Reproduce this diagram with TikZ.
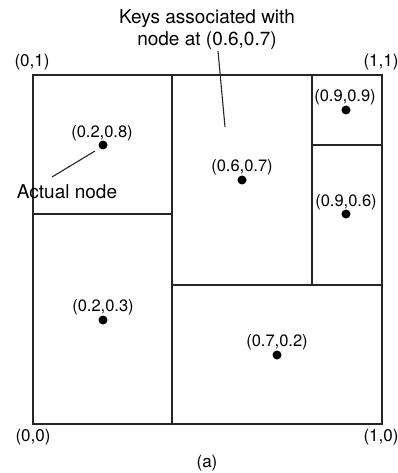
\documentclass[tikz,border=0pt]{standalone}
\usepackage{fontspec}
\setmainfont{TeX Gyre Heros}
\begin{document}
\begin{tikzpicture}[x={(1pt,0)},y={(0,-1pt)},
  region/.style={draw=black!85,line width=1.1pt},
  pt/.style={circle,fill=black,inner sep=0pt,minimum size=9pt},
  coordlbl/.style={font=\fontsize{16.5}{19}\selectfont,inner sep=0pt},
  cornerlbl/.style={font=\fontsize{17}{20}\selectfont,inner sep=0pt},
  bigtxt/.style={font=\fontsize{19}{22}\selectfont,inner sep=0pt,align=center},
  leader/.style={draw=black!85,line width=1.1pt}]
\useasboundingbox (0,0) rectangle (398,473);
% regions
\draw[region] (33,75) rectangle (382,424);
\draw[region] (172,75) -- (172,424);
\draw[region] (312,75) -- (312,285);
\draw[region] (172,285) -- (382,285);
\draw[region] (33,214) -- (172,214);
\draw[region] (312,145) -- (382,145);
% points
\node[pt] (p28) at (103,145) {};
\node[pt] (p99) at (346,110) {};
\node[pt] (p67) at (242,180) {};
\node[pt] (p96) at (346,214) {};
\node[pt] (p23) at (103,320) {};
\node[pt] (p72) at (277,355) {};
% point labels
\node[coordlbl] (l28) at (102,133) {(0.2,0.8)};
\node[coordlbl] (l99) at (345,97) {(0.9,0.9)};
\node[coordlbl] (l67) at (242,167) {(0.6,0.7)};
\node[coordlbl] (l96) at (346,202) {(0.9,0.6)};
\node[coordlbl] (l23) at (103,307) {(0.2,0.3)};
\node[coordlbl] (l72) at (277,342) {(0.7,0.2)};
% corner labels
\node[cornerlbl] (c01) at (32,62) {(0,1)};
\node[cornerlbl] (c11) at (381,62) {(1,1)};
\node[cornerlbl] (c00) at (33,437) {(0,0)};
\node[cornerlbl] (c10) at (381,437) {(1,0)};
\node[cornerlbl] (cap) at (207,463) {(a)};
% annotations
\node[bigtxt] (keys) at (207,30) {Keys associated with\\node at (0.6,0.7)};
\node[bigtxt] (actual) at (67,192) {Actual node};
\coordinate (k1) at (218,51);
\coordinate (k2) at (225,127);
\draw[leader] (k1) -- (k2);
\coordinate (a1) at (95,151);
\coordinate (a2) at (52,177);
\draw[leader] (a1) -- (a2);
\end{tikzpicture}
\end{document}
